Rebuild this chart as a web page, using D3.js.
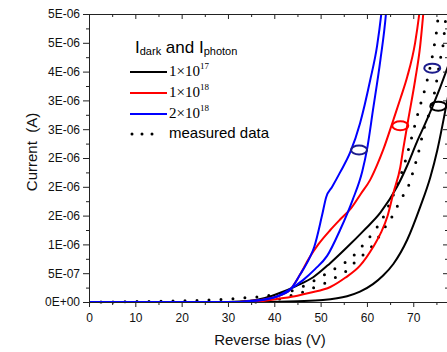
<!DOCTYPE html>
<html><head><meta charset="utf-8">
<script src="https://cdn.jsdelivr.net/npm/d3@7"></script>
<style>body{margin:0;background:#fff} svg{display:block}</style>
</head><body>
<script>
// current values in units of 1e-6 A, x = reverse bias (V)
const blackPhoton = [[0,0],[30,0],[34.8,0.02],[38,0.07],[41.3,0.16],[44.8,0.28],[48.4,0.43],[52,0.67],[55.7,0.95],[59.3,1.24],[62.9,1.55],[66.5,2.0],[68.7,2.37],[70.8,2.78],[72.6,3.1],[74.2,3.4],[77.3,4.05],[79,4.45]];
const blackDark   = [[0,0],[38,0],[41,0.005],[45,0.015],[50.5,0.035],[55.7,0.1],[58.5,0.18],[61.3,0.31],[63.5,0.46],[65.7,0.66],[68.7,1.08],[71.5,1.65],[73.7,2.17],[75.2,2.64],[77.1,3.4],[78.5,4.0],[80,4.8]];
const redPhoton   = [[0,0],[32,0],[35,0.02],[38,0.05],[40.4,0.09],[43.4,0.21],[45.6,0.48],[47.5,0.76],[49.5,1.0],[52.1,1.25],[54.3,1.44],[56.6,1.63],[58.7,1.88],[60.7,2.12],[62.2,2.38],[63.5,2.64],[65.7,3.16],[67.3,3.55],[68.7,3.91],[70.4,4.5],[71.3,5.0],[71.6,5.2]];
const redDark     = [[0,0],[34,0],[37,0.01],[41.3,0.06],[45,0.11],[47.7,0.16],[52.1,0.26],[55.3,0.42],[58.5,0.63],[61.3,0.95],[63,1.2],[64.4,1.48],[65.7,1.89],[67.2,2.34],[67.8,2.64],[68.9,3.16],[70.4,3.85],[71.5,4.45],[72.1,4.95],[72.5,5.3]];
const bluePhoton  = [[0,0],[32,0],[35,0.02],[38,0.05],[40.4,0.09],[43.4,0.21],[45.6,0.48],[47.7,0.78],[48.6,0.95],[50.3,1.5],[51.2,1.82],[52.5,2.0],[54.2,2.25],[56.4,2.6],[58.5,3.1],[60.7,3.85],[62.2,4.45],[63.1,5.0],[63.5,5.3]];
const blueDark    = [[0,0],[33,0],[36,0.02],[40.4,0.09],[43,0.2],[46.2,0.38],[48.8,0.57],[51.4,0.8],[54.2,1.25],[56.9,1.77],[59,2.27],[60,2.64],[61.3,3.33],[62.9,4.2],[64.1,5.0],[64.4,5.3]];
const measPhoton  = [[0,0],[5,0.002],[10,0.008],[15,0.012],[20,0.02],[25,0.03],[30,0.05],[33,0.07],[38,0.1],[40.6,0.14],[42.8,0.17],[45.6,0.25],[47.7,0.33],[50.3,0.45],[52.5,0.55],[54.6,0.65],[56.8,0.78],[58.5,0.93],[60.3,1.1],[62.2,1.3],[63.7,1.5],[65,1.73],[66.5,2.02],[68.3,2.45],[69.3,2.75],[71.1,3.3],[73,3.85],[74.3,4.35],[75.3,4.9],[75.6,5.2]];
const measDark    = [[36,0],[40,0.03],[44,0.12],[46.2,0.17],[48.8,0.26],[51,0.33],[53.1,0.42],[55.3,0.52],[57,0.66],[59.2,0.82],[61.3,0.99],[63.5,1.25],[65.7,1.52],[67.2,1.77],[68.9,2.0],[69.8,2.22],[70.8,2.5],[71.5,2.72],[72.1,2.95],[73,3.16],[74.7,3.68],[75.8,4.2],[76.5,4.5],[76.9,4.84],[77.3,5.1]];
// ellipse markers (data coords of centres)
const markers = [{c:[58.3,2.64],col:"#1c1c8c"},{c:[67.2,3.06],col:"#ff0000"},{c:[74.1,4.06],col:"#1c1c8c"},{c:[75.4,3.40],col:"#000"}];
const xTicks = [0,10,20,30,40,50,60,70];
const xMinor = [5,15,25,35,45,55,65,75];
const yTicks = [0,0.5,1,1.5,2,2.5,3,3.5,4,4.5,5];
const yLabels = ["0E+00","5E-07","1E-06","2E-06","2E-06","2E-06","3E-06","3E-06","4E-06","5E-06","5E-06"];
const yMinor = [0.25,0.75,1.25,1.75,2.25,2.75,3.25,3.75,4.25,4.75];
const legendItems = [{base:"1×10",exp:"17",col:"#000"},{base:"1×10",exp:"18",col:"#ff0000"},{base:"2×10",exp:"18",col:"#0000ff"}];

const W=447,H=352;
const svg=d3.select("body").append("svg").attr("width",W).attr("height",H);
const x=d3.scaleLinear([0,77.5],[89,448]);
const y=d3.scaleLinear([0,5],[302,14]);
const sans="Liberation Sans, Arial, sans-serif", serif="Liberation Serif, Times New Roman, serif";

svg.append("clipPath").attr("id","clip").append("rect")
  .attr("x",x(0)).attr("y",y(5)).attr("width",x(77.5)-x(0)).attr("height",y(0)-y(5)+3);

const line=d3.line().x(d=>x(d[0])).y(d=>y(d[1])).curve(d3.curveMonotoneX);
const g=svg.append("g").attr("clip-path","url(#clip)");
[measPhoton,measDark].forEach(s=>g.append("path").attr("d",line(s)).attr("fill","none")
  .attr("stroke","#000").attr("stroke-width",3).attr("stroke-linecap","round").attr("stroke-dasharray","0 12"));
[[blackPhoton,"#000"],[blackDark,"#000"],[redPhoton,"#ff0000"],[redDark,"#ff0000"],[bluePhoton,"#0000ff"],[blueDark,"#0000ff"]]
  .forEach(([s,c])=>g.append("path").attr("d",line(s)).attr("fill","none").attr("stroke",c).attr("stroke-width",2));
markers.forEach(m=>g.append("ellipse").attr("cx",x(m.c[0])).attr("cy",y(m.c[1])).attr("rx",8).attr("ry",4.5)
  .attr("fill","none").attr("stroke",m.col).attr("stroke-width",2));

function style(ax){ax.selectAll("path,line").attr("stroke","#222").attr("stroke-width",1);
  ax.selectAll("text").attr("font-family",sans).attr("font-size",12).attr("fill","#111");}
style(svg.append("g").attr("transform",`translate(0,${y(0)})`).call(d3.axisBottom(x).tickValues(xTicks).tickSize(5).tickSizeOuter(0).tickPadding(6)));
style(svg.append("g").attr("transform",`translate(0,${y(0)})`).call(d3.axisBottom(x).tickValues(xMinor).tickSize(3).tickSizeOuter(0).tickFormat("")));
style(svg.append("g").attr("transform",`translate(0,${y(5)})`).call(d3.axisTop(x).tickValues(xTicks).tickSize(-5).tickSizeOuter(0).tickFormat("")));
style(svg.append("g").attr("transform",`translate(0,${y(5)})`).call(d3.axisTop(x).tickValues(xMinor).tickSize(-3).tickSizeOuter(0).tickFormat("")));
style(svg.append("g").attr("transform",`translate(${x(0)},0)`).call(d3.axisLeft(y).tickValues(yTicks).tickSize(6).tickSizeOuter(0).tickPadding(3).tickFormat((d,i)=>yLabels[i])));
style(svg.append("g").attr("transform",`translate(${x(0)},0)`).call(d3.axisLeft(y).tickValues(yMinor).tickSize(3).tickSizeOuter(0).tickFormat("")));
style(svg.append("g").attr("transform",`translate(${x(77.5)},0)`).call(d3.axisRight(y).tickValues(yTicks).tickSize(-5).tickSizeOuter(0).tickFormat("")));
style(svg.append("g").attr("transform",`translate(${x(77.5)},0)`).call(d3.axisRight(y).tickValues(yMinor).tickSize(-3).tickSizeOuter(0).tickFormat("")));

svg.append("text").attr("x",270).attr("y",345).attr("text-anchor","middle").attr("font-family",sans)
  .attr("font-size",15).attr("fill","#111").text("Reverse bias (V)");
svg.append("text").attr("transform","translate(37,152) rotate(-90)").attr("text-anchor","middle")
  .attr("font-family",sans).attr("font-size",15).attr("fill","#111").attr("xml:space","preserve").text("Current  (A)");

// legend
const t=svg.append("text").attr("x",135).attr("y",53).attr("font-family",sans).attr("font-size",17).attr("fill","#000");
t.append("tspan").text("I");
t.append("tspan").attr("font-size",11).attr("dy",2).text("dark");
t.append("tspan").attr("dy",-2).text(" and I");
t.append("tspan").attr("font-size",11).attr("dy",2).text("photon");
legendItems.forEach((it,i)=>{
  const ly=72+i*21;
  svg.append("line").attr("x1",130).attr("x2",167).attr("y1",ly).attr("y2",ly).attr("stroke",it.col).attr("stroke-width",2);
  const tt=svg.append("text").attr("x",169).attr("y",ly+4).attr("font-family",serif).attr("font-size",15).attr("fill","#000");
  tt.append("tspan").text(it.base);
  tt.append("tspan").attr("dy",-7).attr("font-size",9).text(it.exp);
});
svg.append("line").attr("x1",132).attr("x2",160).attr("y1",134).attr("y2",134).attr("stroke","#000")
  .attr("stroke-width",3).attr("stroke-linecap","round").attr("stroke-dasharray","0 10");
svg.append("text").attr("x",169).attr("y",138).attr("font-family",sans).attr("font-size",15).attr("fill","#000").text("measured data");
</script>
</body></html>
